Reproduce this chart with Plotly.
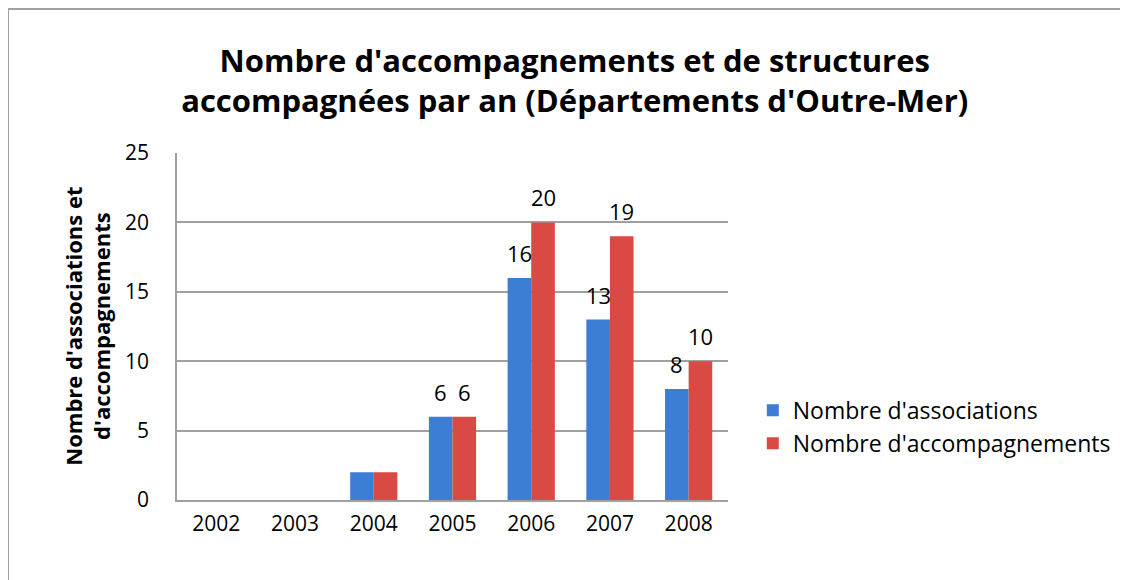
import plotly.graph_objects as go

years = ["2002", "2003", "2004", "2005", "2006", "2007", "2008"]
associations = [0, 0, 2, 6, 16, 13, 8]
accompagnements = [0, 0, 2, 6, 20, 19, 10]
assoc_labels = ["", "", "", "6", "16", "13", "8"]
accomp_labels = ["", "", "", "6", "20", "19", "10"]

FONT = "Open Sans"
BARGAP = 0.4
half = (1 - BARGAP) / 4  # offset of each bar centre from category centre

fig = go.Figure()
fig.add_trace(go.Bar(
    x=years, y=associations, name="Nombre d'associations",
    marker=dict(color="#3C7ED3", line=dict(width=0)),
))
fig.add_trace(go.Bar(
    x=years, y=accompagnements, name="Nombre d'accompagnements",
    marker=dict(color="#D84A43", line=dict(width=0)),
))

annotations = []
for i, (v, lab) in enumerate(zip(associations, assoc_labels)):
    if lab:
        annotations.append(dict(x=i - half, y=v, xref="x", yref="y", text=lab,
                                showarrow=False, yanchor="bottom", yshift=8,
                                font=dict(size=22, family=FONT, color="#000")))
for i, (v, lab) in enumerate(zip(accompagnements, accomp_labels)):
    if lab:
        annotations.append(dict(x=i + half, y=v, xref="x", yref="y", text=lab,
                                showarrow=False, yanchor="bottom", yshift=8,
                                font=dict(size=22, family=FONT, color="#000")))
annotations.append(dict(
    text="<b>Nombre d'associations et<br>d'accompagnements</b>",
    textangle=-90, xref="paper", yref="paper",
    x=-0.163, y=0.5, xanchor="center", yanchor="middle",
    showarrow=False, font=dict(size=22, family=FONT),
))

fig.update_layout(
    width=1120, height=572,
    margin=dict(l=169, r=395, t=145, b=80),
    paper_bgcolor="white", plot_bgcolor="white",
    font=dict(family=FONT, size=21, color="#000"),
    barmode="group", bargap=BARGAP, bargroupgap=0,
    title=dict(
        text="<b>Nombre d'accompagnements et de structures<br>accompagnées par an (Départements d'Outre-Mer)</b>",
        x=0.506, xanchor="center", xref="container",
        y=1 - 64 / 572, yanchor="top", yref="container",
        font=dict(size=31, family=FONT, color="#000"),
    ),
    showlegend=True,
    legend=dict(
        x=1.045, y=0.211, xanchor="left", yanchor="middle",
        font=dict(size=23, family=FONT),
        itemsizing="constant", tracegroupgap=0,
    ),
    xaxis=dict(
        showgrid=False, showline=True, linecolor="#A0A0A0", linewidth=1.5,
        ticks="", tickfont=dict(size=21), ticklabelstandoff=4,
    ),
    yaxis=dict(
        range=[0, 25], dtick=5, showgrid=True, gridcolor="#A0A0A0", gridwidth=1.5,
        showline=True, linecolor="#A0A0A0", linewidth=1.5,
        ticks="", tickfont=dict(size=21), zeroline=False, ticklabelstandoff=22,
    ),
    annotations=annotations,
    shapes=[dict(
        type="rect", xref="paper", yref="paper",
        x0=-0.3067, x1=1.75, y0=-0.25, y1=1.415,
        line=dict(color="#A0A0A0", width=2), layer="below",
    )],
)

fig.write_html("out.html")
